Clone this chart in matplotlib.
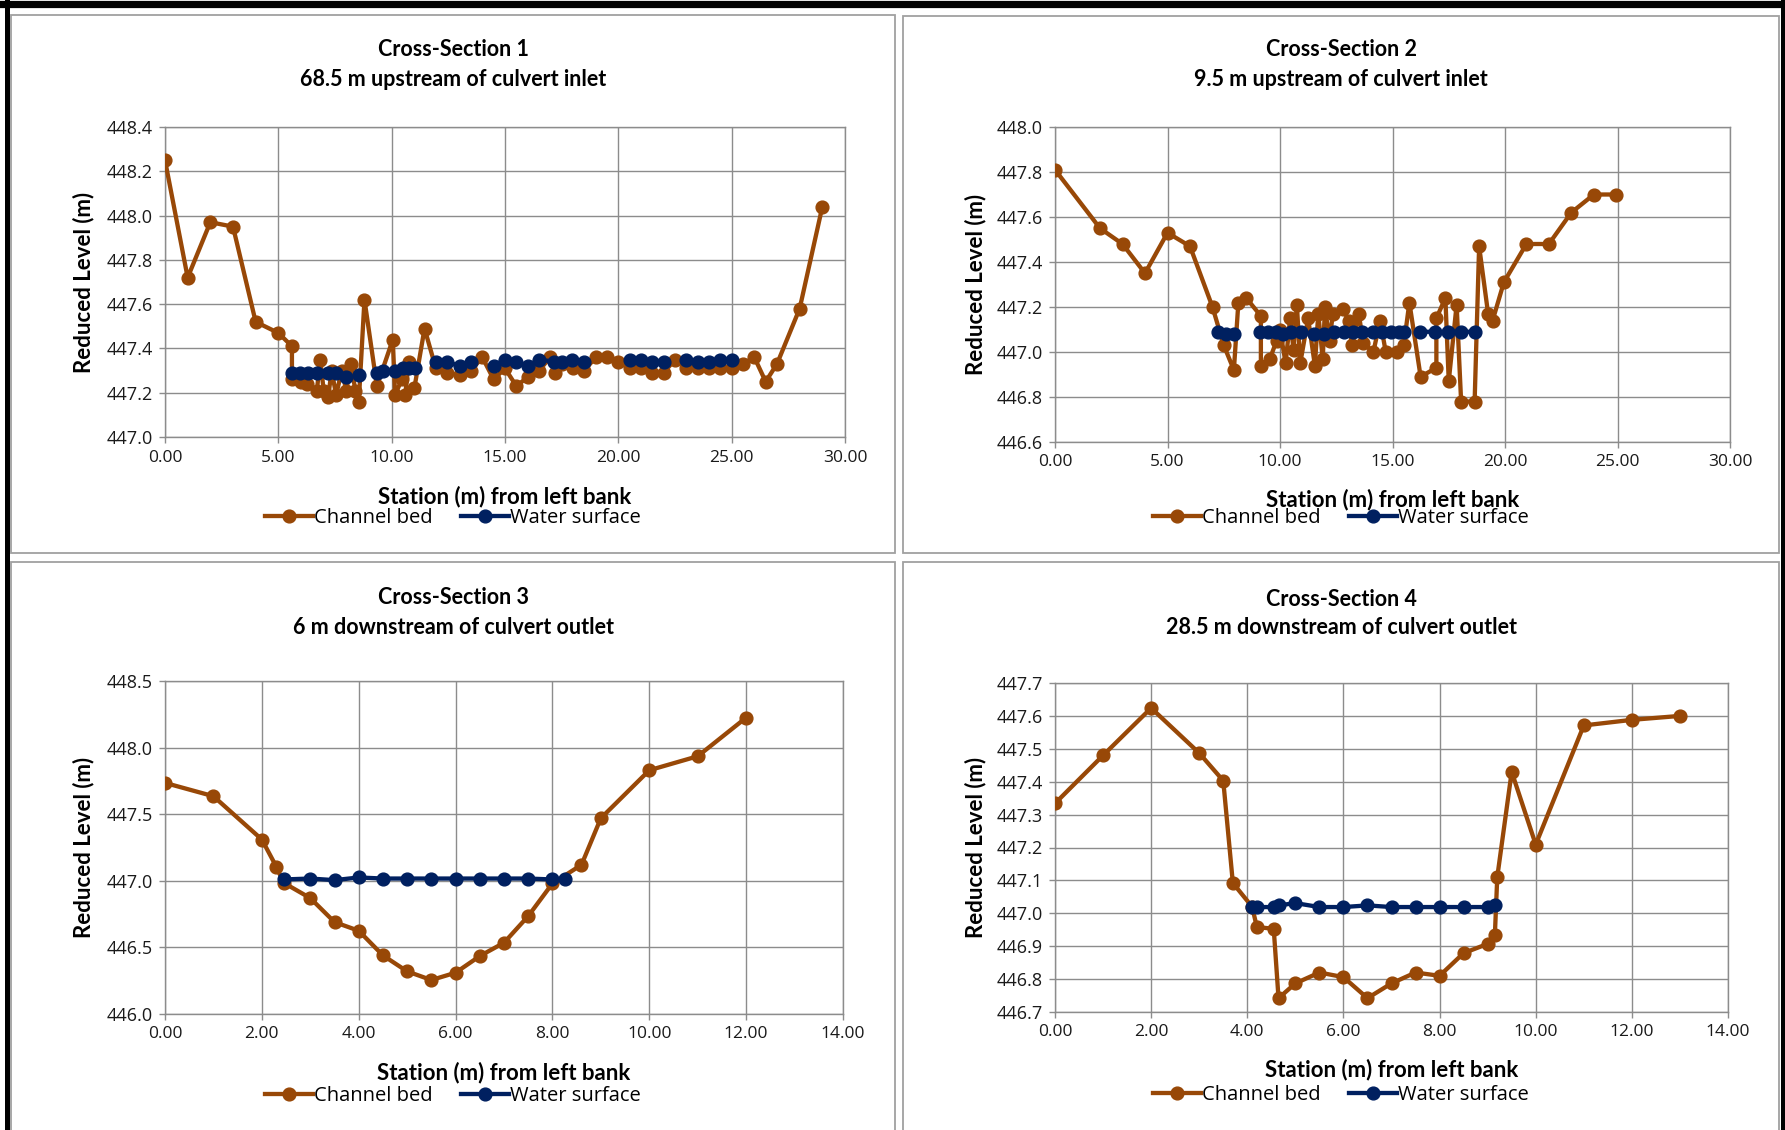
import matplotlib
matplotlib.use("Agg")
import matplotlib.pyplot as plt
from matplotlib.lines import Line2D
from matplotlib.patches import Rectangle
import numpy as np

nan = np.nan

# Cross-section 1
cs1_bed_x = [0.0, 1.0, 2.0, 3.0, 4.0, 5.0, 5.6, 5.6, 6.0, 6.25, 6.7, 6.85, 7.0, 7.2, 7.35, 7.55,
             7.8, 8.0, 8.2, 8.4, 8.55, 8.8, 9.35, 10.05, 10.15, 10.45, 10.75, 10.6, 11.0, 11.45,
             11.95, 12.45, 13.0, 13.5, 14.0, 14.5, 15.0, 15.5, 16.0, 16.5, 17.0, 17.2, 17.5, 18.0,
             18.5, 19.0, 19.5, 20.0, 20.5, 21.0, 21.5, 22.0, 22.5, 23.0, 23.5, 24.0, 24.5, 25.0,
             25.5, 26.0, 26.5, 27.0, 28.0, 29.0]
cs1_bed_y = [448.25, 447.72, 447.97, 447.95, 447.52, 447.47, 447.41, 447.26, 447.25, 447.24, 447.21,
             447.35, 447.21, 447.18, 447.30, 447.19, 447.30, 447.21, 447.33, 447.21, 447.16, 447.62,
             447.23, 447.44, 447.19, 447.26, 447.34, 447.19, 447.22, 447.49, 447.31, 447.29, 447.28,
             447.30, 447.36, 447.26, 447.31, 447.23, 447.27, 447.30, 447.36, 447.29, 447.33, 447.31,
             447.30, 447.36, 447.36, 447.34, 447.31, 447.31, 447.29, 447.29, 447.35, 447.31, 447.31,
             447.31, 447.31, 447.31, 447.33, 447.36, 447.25, 447.33, 447.58, 448.04]
cs1_ws_x = [5.6, 5.95, 6.3, 6.7, 7.2, 7.55, 8.0, nan, 8.55, nan, 9.35, 9.6, nan, 10.15, 10.5, 10.75,
            11.05, nan, 11.95, 12.45, 13.0, 13.5, nan, 14.5, 15.0, 15.5, 16.0, 16.5, 17.15, 17.5,
            17.95, 18.5, nan, 20.5, 21.0, 21.5, 22.0, nan, 23.0, 23.5, 24.0, 24.5, 25.0]
cs1_ws_y = [447.29, 447.29, 447.29, 447.29, 447.29, 447.29, 447.27, nan, 447.28, nan, 447.29, 447.30,
            nan, 447.30, 447.31, 447.31, 447.31, nan, 447.34, 447.34, 447.32, 447.34, nan, 447.32,
            447.35, 447.34, 447.32, 447.35, 447.34, 447.34, 447.35, 447.34, nan, 447.35, 447.35,
            447.34, 447.34, nan, 447.35, 447.34, 447.34, 447.35, 447.35]

# Cross-section 2
cs2_bed_x = [0.0, 2.0, 3.0, 4.0, 5.0, 6.0, 7.0, 7.5, 7.95, 8.15, 8.5, 9.15, 9.15, 9.55, 9.85, 10.0,
             10.25, 10.45, 10.6, 10.75, 10.9, 11.25, 11.55, 11.7, 11.9, 12.0, 12.2, 12.35, 12.8,
             13.05, 13.2, 13.5, 13.7, 14.15, 14.45, 14.7, 15.2, 15.5, 15.75, 16.25, 16.95, 16.95,
             17.35, 17.5, 17.85, 18.05, 18.65, 18.85, 19.25, 19.45, 19.95, 20.95, 21.95, 22.95,
             23.95, 24.95]
cs2_bed_y = [447.81, 447.55, 447.48, 447.35, 447.53, 447.47, 447.20, 447.03, 446.92, 447.22, 447.24,
             447.16, 446.94, 446.97, 447.05, 447.10, 446.95, 447.15, 447.01, 447.21, 446.95, 447.15,
             446.94, 447.17, 446.97, 447.20, 447.05, 447.17, 447.19, 447.14, 447.03, 447.17, 447.04,
             447.00, 447.14, 447.00, 447.00, 447.03, 447.22, 446.89, 446.93, 447.15, 447.24, 446.87,
             447.21, 446.78, 446.78, 447.47, 447.17, 447.14, 447.31, 447.48, 447.48, 447.62, 447.70,
             447.70]
cs2_ws_x = [7.25, 7.6, 7.95, nan, 9.1, 9.45, 9.8, 10.15, 10.5, 10.95, 11.5, 11.95, 12.4, 12.85, 13.25,
            13.65, 14.15, 14.55, 14.95, 15.3, 15.5, nan, 16.2, 16.9, nan, 17.45, 18.05, 18.65]
cs2_ws_y = [447.09, 447.08, 447.08, nan, 447.09, 447.09, 447.09, 447.08, 447.09, 447.09, 447.08,
            447.08, 447.09, 447.09, 447.09, 447.09, 447.09, 447.09, 447.09, 447.09, 447.09, nan,
            447.09, 447.09, nan, 447.09, 447.09, 447.09]

# Cross-section 3
cs3_bed_x = [0.0, 1.0, 2.0, 2.3, 2.45, 3.0, 3.5, 4.0, 4.5, 5.0, 5.5, 6.0, 6.5, 7.0, 7.5, 8.0, 8.6,
             9.0, 10.0, 11.0, 12.0]
cs3_bed_y = [447.735, 447.635, 447.31, 447.105, 446.985, 446.87, 446.69, 446.625, 446.44, 446.32,
             446.255, 446.31, 446.435, 446.535, 446.735, 446.98, 447.12, 447.47, 447.83, 447.935,
             448.225]
cs3_ws_x = [2.45, 3.0, 3.5, 4.0, 4.5, 5.0, 5.5, 6.0, 6.5, 7.0, 7.5, 8.0, 8.25]
cs3_ws_y = [447.01, 447.017, 447.005, 447.025, 447.017, 447.017, 447.017, 447.017, 447.017,
            447.017, 447.017, 447.01, 447.01]

# Cross-section 4
cs4_bed_x = [0.0, 1.0, 2.0, 3.0, 3.5, 3.7, 4.1, 4.2, 4.55, 4.65, 5.0, 5.5, 6.0, 6.5, 7.0, 7.5,
             8.0, 8.5, 9.0, 9.15, 9.2, 9.5, 10.0, 11.0, 12.0, 13.0]
cs4_bed_y = [447.334, 447.48, 447.624, 447.487, 447.403, 447.092, 447.02, 446.958, 446.953,
             446.742, 446.787, 446.82, 446.806, 446.742, 446.787, 446.82, 446.81, 446.879, 446.907,
             446.933, 447.11, 447.43, 447.209, 447.571, 447.588, 447.60]
cs4_ws_x = [4.1, 4.2, 4.55, 4.65, 5.0, 5.5, 6.0, 6.5, 7.0, 7.5, 8.0, 8.5, 9.0, 9.15]
cs4_ws_y = [447.019, 447.019, 447.019, 447.024, 447.031, 447.019, 447.019, 447.024, 447.019,
            447.019, 447.019, 447.019, 447.019, 447.024]

titles = ["Cross-Section 1\n68.5 m upstream of culvert inlet",
          "Cross-Section 2\n9.5 m upstream of culvert inlet",
          "Cross-Section 3\n6 m downstream of culvert outlet",
          "Cross-Section 4\n28.5 m downstream of culvert outlet"]

W, H = 1785, 1130
BED = "#984807"
WATER = "#002060"
GRID = "#8c8c8c"
TICKFONT = "Open Sans"
BOLDFONT = "Lato"

fig = plt.figure(figsize=(W / 100, H / 100), dpi=100)


def fx(px):
    return px / W


def fy(py):
    return 1 - py / H


# panel boxes (left, right, top, bottom in pixels)
boxes = [(11, 895, 15, 553), (903, 1779, 16, 553), (11, 895, 562, 1140), (903, 1779, 562, 1140)]
for l, r, t, b in boxes:
    fig.add_artist(Rectangle((fx(l), fy(b)), fx(r - l), (b - t) / H, transform=fig.transFigure,
                             fill=False, ec="#a0a0a0", lw=1.3))
# outer black frame
fig.add_artist(Line2D([0, 1], [fy(3.5), fy(3.5)], transform=fig.transFigure, color="black", lw=5.2))
fig.add_artist(Line2D([fx(6.5), fx(6.5)], [0, 1], transform=fig.transFigure, color="black", lw=3.6))
fig.add_artist(Line2D([fx(1782.5), fx(1782.5)], [0, 1], transform=fig.transFigure, color="black", lw=3.6))

# axes areas in pixels: left, right, top, bottom
areas = [(165, 845, 127, 437), (1055, 1730, 127, 442), (165, 843, 681, 1014), (1055, 1728, 683, 1012)]
title_y = [(50, 80), (50, 80), (597, 627), (600, 628)]
xlabel_y = [497, 500, 1073, 1070]
legend_y = [518, 518, 1096, 1095]
ylabel_x = [84, 976, 84, 976]
panel_cx = [453, 1341, 453, 1341]

data = [(cs1_bed_x, cs1_bed_y, cs1_ws_x, cs1_ws_y),
        (cs2_bed_x, cs2_bed_y, cs2_ws_x, cs2_ws_y),
        (cs3_bed_x, cs3_bed_y, cs3_ws_x, cs3_ws_y),
        (cs4_bed_x, cs4_bed_y, cs4_ws_x, cs4_ws_y)]
xticks = [np.arange(0, 30.1, 5), np.arange(0, 30.1, 5), np.arange(0, 14.1, 2), np.arange(0, 14.1, 2)]
yticks = [np.arange(447.0, 448.41, 0.2), np.arange(446.6, 448.01, 0.2),
          np.arange(446.0, 448.51, 0.5), np.arange(446.7, 447.71, 0.1)]

for i in range(4):
    l, r, t, b = areas[i]
    ax = fig.add_axes([fx(l), fy(b), fx(r - l), (b - t) / H])
    bx, by, wx, wy = data[i]
    ax.plot(bx, by, color=BED, lw=3.1, marker="o", ms=9.2, label="Channel bed", zorder=3)
    ax.plot(wx, wy, color=WATER, lw=3.1, marker="o", ms=9.2, label="Water surface", zorder=4)
    ax.set_xlim(xticks[i][0], xticks[i][-1])
    ax.set_ylim(yticks[i][0], yticks[i][-1])
    ax.set_xticks(xticks[i])
    ax.set_yticks(yticks[i])
    ax.set_xticklabels(["%.2f" % v for v in xticks[i]], fontfamily=TICKFONT, fontsize=12.5)
    ax.set_yticklabels(["%.1f" % v for v in yticks[i]], fontfamily=TICKFONT, fontsize=13)
    ax.grid(True, color=GRID, lw=1.0)
    ax.set_axisbelow(True)
    for s in ax.spines.values():
        s.set_color(GRID)
        s.set_linewidth(1.0)
    ax.tick_params(axis="both", direction="out", length=4, width=1.0, color=GRID,
                   labelcolor="#1a1a1a", pad=5)

    t1, t2 = titles[i].split("\n")
    fig.text(fx(panel_cx[i]), fy(title_y[i][0]), t1, ha="center", va="center",
             fontfamily=BOLDFONT, fontweight="bold", fontsize=15.5)
    fig.text(fx(panel_cx[i]), fy(title_y[i][1]), t2, ha="center", va="center",
             fontfamily=BOLDFONT, fontweight="bold", fontsize=15.5)
    fig.text(fx((l + r) / 2), fy(xlabel_y[i]), "Station (m) from left bank", ha="center",
             va="center", fontfamily=BOLDFONT, fontweight="bold", fontsize=16)
    fig.text(fx(ylabel_x[i]), fy((t + b) / 2), "Reduced Level (m)", ha="center", va="center",
             rotation=90, fontfamily=BOLDFONT, fontweight="bold", fontsize=16)
    ax.legend(loc="center", bbox_to_anchor=(fx(panel_cx[i]), fy(legend_y[i])),
              bbox_transform=fig.transFigure, ncol=2, frameon=False, handlelength=2.4,
              handletextpad=0.05, columnspacing=1.4, borderpad=0,
              prop={"family": TICKFONT, "size": 14.5})

fig.savefig("out.png", dpi=100)
